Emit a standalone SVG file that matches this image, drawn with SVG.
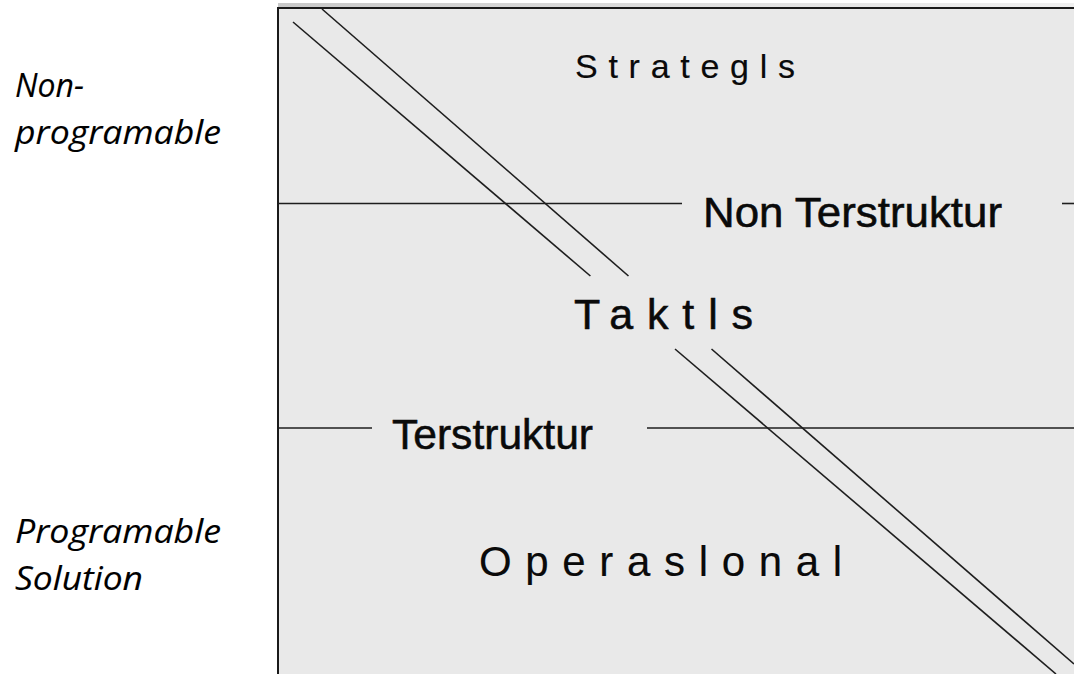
<svg xmlns="http://www.w3.org/2000/svg" width="1074" height="674" viewBox="0 0 1074 674">
  <defs>
    <linearGradient id="topStrip" x1="0" y1="0" x2="1" y2="0">
      <stop offset="0" stop-color="#c9c9c9"/>
      <stop offset="0.5" stop-color="#dedede"/>
      <stop offset="1" stop-color="#f0f0f0"/>
    </linearGradient>
  </defs>
  <style>
    .rule { stroke: #1e1e1e; stroke-width: 1.6; fill: none; }
    .edge { stroke: #1a1a1a; stroke-width: 2; fill: none; }
    .level { font-family: "Liberation Sans", Arial, sans-serif; fill: #0a0a0a; stroke: #0a0a0a; }
    .thin { stroke-width: 0.15; }
    .heavy { stroke-width: 0.55; }
    .side { font-family: "Open Sans", "Noto Sans", sans-serif; font-style: italic; font-size: 32px; fill: #000; stroke: #000; stroke-width: 0.1; }
  </style>

  <rect x="0" y="0" width="1074" height="674" fill="#ffffff"/>

  <!-- panel -->
  <g id="panel">
    <rect x="278" y="3" width="796" height="5" fill="url(#topStrip)"/>
    <rect x="278" y="8" width="796" height="666" fill="#e9e9e9"/>
    <line class="edge" x1="278" y1="8" x2="1074" y2="8"/>
    <line class="edge" x1="278" y1="7" x2="278" y2="674"/>
  </g>

  <!-- horizontal dividers, broken around their labels -->
  <g id="dividers">
    <line class="rule" x1="278" y1="203.5" x2="682" y2="203.5"/>
    <line class="rule" x1="1062" y1="203.5" x2="1074" y2="203.5"/>
    <line class="rule" x1="278" y1="428" x2="372" y2="428"/>
    <line class="rule" x1="647" y1="428" x2="1074" y2="428"/>
  </g>

  <!-- double diagonal band, interrupted at the middle level -->
  <g id="connectors">
    <line class="rule" x1="293" y1="22" x2="590.4" y2="276"/>
    <line class="rule" x1="322" y1="9" x2="628.5" y2="276"/>
    <line class="rule" x1="675" y1="349" x2="1056" y2="674"/>
    <line class="rule" x1="711.5" y1="349" x2="1074" y2="664"/>
  </g>

  <!-- level labels -->
  <g id="strategis">
    <text class="level thin" x="575" y="78" font-size="34" textLength="220" lengthAdjust="spacing">Strategls</text>
  </g>
  <g id="non-terstruktur">
    <text class="level heavy" x="703" y="227" font-size="42" textLength="299" lengthAdjust="spacingAndGlyphs">Non Terstruktur</text>
  </g>
  <g id="taktis">
    <text class="level heavy" x="574" y="329" font-size="43" textLength="179" lengthAdjust="spacing">Taktls</text>
  </g>
  <g id="terstruktur">
    <text class="level heavy" x="392" y="449" font-size="42" textLength="201" lengthAdjust="spacingAndGlyphs">Terstruktur</text>
  </g>
  <g id="operasional">
    <text class="level thin" x="479" y="576" font-size="42" textLength="363" lengthAdjust="spacing">Operaslonal</text>
  </g>

  <!-- side captions -->
  <g id="non-programable">
    <text class="side" x="15" y="97">Non-</text>
    <text class="side" x="15" y="144" textLength="206" lengthAdjust="spacingAndGlyphs">programable</text>
  </g>
  <g id="programable-solution">
    <text class="side" x="15" y="543" textLength="206" lengthAdjust="spacingAndGlyphs">Programable</text>
    <text class="side" x="15" y="590" textLength="128" lengthAdjust="spacingAndGlyphs">Solution</text>
  </g>
</svg>
